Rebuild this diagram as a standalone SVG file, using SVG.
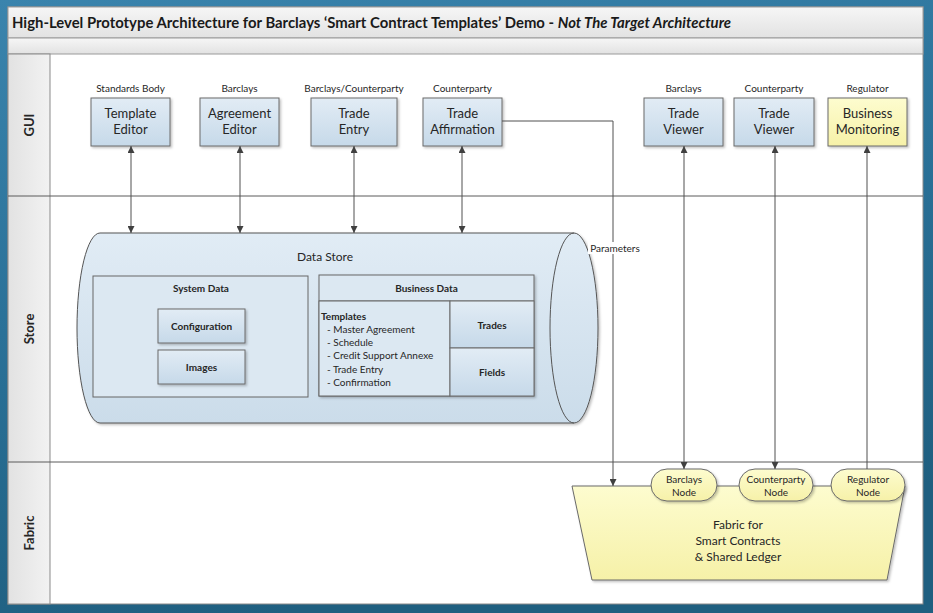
<svg xmlns="http://www.w3.org/2000/svg" width="933" height="613" viewBox="0 0 933 613">
<defs>
<linearGradient id="bg" x1="0" y1="0" x2="0.3" y2="1">
<stop offset="0" stop-color="#3a84ad"/>
<stop offset="0.5" stop-color="#2a7198"/>
<stop offset="1" stop-color="#1f5f80"/>
</linearGradient>
<linearGradient id="bar" x1="0" y1="0" x2="0" y2="1">
<stop offset="0" stop-color="#f6f6f6"/>
<stop offset="1" stop-color="#e2e2e2"/>
</linearGradient>
<linearGradient id="col" x1="0" y1="0" x2="1" y2="0">
<stop offset="0" stop-color="#e2e2e2"/>
<stop offset="1" stop-color="#f2f2f2"/>
</linearGradient>
<linearGradient id="blue" x1="0" y1="0" x2="0" y2="1">
<stop offset="0" stop-color="#e2ecf5"/>
<stop offset="1" stop-color="#c6d9e9"/>
</linearGradient>
<linearGradient id="store" x1="0" y1="0" x2="0" y2="1">
<stop offset="0" stop-color="#e1ecf5"/>
<stop offset="1" stop-color="#cbdcea"/>
</linearGradient>
<linearGradient id="yellow" x1="0" y1="0" x2="0" y2="1">
<stop offset="0" stop-color="#fdfccf"/>
<stop offset="1" stop-color="#f6f1a8"/>
</linearGradient>
<filter id="sh" x="-10%" y="-10%" width="125%" height="130%">
<feDropShadow dx="1.5" dy="1.5" stdDeviation="1.2" flood-color="#000" flood-opacity="0.25"/>
</filter>
<marker id="ah" viewBox="0 0 10 10" refX="10" refY="5" markerWidth="7" markerHeight="7" markerUnits="userSpaceOnUse" orient="auto-start-reverse">
<path d="M0,0 L10,5 L0,10 Z" fill="#404040"/>
</marker>
<style>
text{font-family:Lato,"Liberation Sans",sans-serif;fill:#262626}
.t{font-size:14.5px;font-weight:bold;fill:#1a1a1a}
.lane{font-size:13px;font-weight:bold}
.n{font-size:13px;text-anchor:middle}
.s{font-size:10px;text-anchor:middle}
.sb{font-size:10px;font-weight:bold;text-anchor:middle}
.l{font-size:10px}
.m{font-size:12px;text-anchor:middle}
.box{fill:url(#blue);stroke:#6a6a6a;stroke-width:1}
.yel{fill:url(#yellow);stroke:#6a6a6a;stroke-width:1}
.in{fill:#dce8f2;stroke:#666;stroke-width:1}
.c{fill:none;stroke:#505050;stroke-width:1}
.sep{stroke:#5a5a5a;stroke-width:1}
</style>
</defs>
<rect x="0" y="0" width="933" height="613" fill="url(#bg)"/>
<g id="frame">
<rect x="8" y="7" width="915" height="597" fill="#fff" stroke="#8a8a8a"/>
<rect x="8" y="7" width="915" height="31" fill="url(#bar)" stroke="#9a9a9a"/>
<rect x="8" y="38" width="915" height="16" fill="url(#bar)" stroke="#9a9a9a"/>
<rect x="8" y="54" width="42" height="550" fill="url(#col)" stroke="#8a8a8a"/>
<line class="sep" x1="8" y1="196" x2="923" y2="196"/>
<line class="sep" x1="8" y1="462" x2="923" y2="462"/>
<text class="t" x="12" y="28" textLength="719" lengthAdjust="spacingAndGlyphs">High-Level Prototype Architecture for Barclays ‘Smart Contract Templates’ Demo - <tspan font-style="italic">Not The Target Architecture</tspan></text>
<text class="lane" transform="translate(33.5,125) rotate(-90)" text-anchor="middle">GUI</text>
<text class="lane" transform="translate(33.5,329) rotate(-90)" text-anchor="middle">Store</text>
<text class="lane" transform="translate(33.5,533) rotate(-90)" text-anchor="middle">Fabric</text>
</g>
<g id="data-store">
<path d="M100,233 H574 A24,95 0 0 1 574,423 H100 A23,95 0 0 1 100,233 Z" fill="url(#store)" stroke="#555" filter="url(#sh)"/>
<path d="M574,233 A24,95 0 0 0 574,423" fill="none" stroke="#555"/>
<text class="m" x="325" y="261">Data Store</text>
</g>
<g id="system-data">
<rect class="in" x="93" y="276" width="215" height="121"/>
<text class="sb" x="201" y="292">System Data</text>
</g>
<g id="configuration">
<rect class="box" x="158" y="309" width="87" height="34" filter="url(#sh)"/>
<text class="sb" x="201.5" y="329.5">Configuration</text>
</g>
<g id="images">
<rect class="box" x="158" y="350" width="87" height="34" filter="url(#sh)"/>
<text class="sb" x="201.5" y="370.5">Images</text>
</g>
<g id="business-data">
<rect class="in" x="319" y="275" width="215" height="121" filter="url(#sh)"/>
<line x1="319" y1="301" x2="534" y2="301" stroke="#666"/>
<text class="sb" x="426.5" y="291.5">Business Data</text>
</g>
<g id="templates">
<rect class="in" x="319" y="301" width="131" height="95"/>
<text class="l" x="321" y="319.5" font-weight="bold">Templates</text>
<text class="l" x="327" y="332.5">- Master Agreement</text>
<text class="l" x="327" y="345.5">- Schedule</text>
<text class="l" x="327" y="359">- Credit Support Annexe</text>
<text class="l" x="327" y="372.5">- Trade Entry</text>
<text class="l" x="327" y="385.5">- Confirmation</text>
</g>
<g id="trades">
<rect class="box" x="450" y="301" width="84" height="47"/>
<text class="sb" x="492" y="328.5">Trades</text>
</g>
<g id="fields">
<rect class="box" x="450" y="348" width="84" height="48"/>
<text class="sb" x="492" y="375.5">Fields</text>
</g>
<g id="fabric">
<path d="M572,486 L905,486 L887,580 L592,580 Z" fill="url(#yellow)" stroke="#6a6a6a" filter="url(#sh)"/>
<text class="m" x="738" y="529">Fabric for</text>
<text class="m" x="738" y="545">Smart Contracts</text>
<text class="m" x="738" y="561">&amp; Shared Ledger</text>
</g>
<g id="barclays-node">
<rect class="yel" x="651" y="469" width="66" height="32" rx="16" filter="url(#sh)"/>
<text class="s" x="684" y="482.5">Barclays</text>
<text class="s" x="684" y="495.5">Node</text>
</g>
<g id="counterparty-node">
<rect class="yel" x="739" y="469" width="74" height="32" rx="16" filter="url(#sh)"/>
<text class="s" x="776" y="482.5">Counterparty</text>
<text class="s" x="776" y="495.5">Node</text>
</g>
<g id="regulator-node">
<rect class="yel" x="831" y="469" width="74" height="32" rx="16" filter="url(#sh)"/>
<text class="s" x="868" y="482.5">Regulator</text>
<text class="s" x="868" y="495.5">Node</text>
</g>
<g id="template-editor">
<text class="s" x="130.5" y="91.5">Standards Body</text>
<rect class="box" x="91" y="98" width="79" height="48" filter="url(#sh)"/>
<text class="n" x="130.5" y="117.5">Template</text>
<text class="n" x="130.5" y="133.5">Editor</text>
</g>
<g id="agreement-editor">
<text class="s" x="239.5" y="91.5">Barclays</text>
<rect class="box" x="200" y="98" width="79" height="48" filter="url(#sh)"/>
<text class="n" x="239.5" y="117.5">Agreement</text>
<text class="n" x="239.5" y="133.5">Editor</text>
</g>
<g id="trade-entry">
<text class="s" x="354" y="91.5">Barclays/Counterparty</text>
<rect class="box" x="311" y="98" width="86" height="48" filter="url(#sh)"/>
<text class="n" x="354" y="117.5">Trade</text>
<text class="n" x="354" y="133.5">Entry</text>
</g>
<g id="trade-affirmation">
<text class="s" x="462.5" y="91.5">Counterparty</text>
<rect class="box" x="423" y="98" width="79" height="48" filter="url(#sh)"/>
<text class="n" x="462.5" y="117.5">Trade</text>
<text class="n" x="462.5" y="133.5">Affirmation</text>
</g>
<g id="trade-viewer-barclays">
<text class="s" x="683.5" y="91.5">Barclays</text>
<rect class="box" x="644" y="98" width="79" height="48" filter="url(#sh)"/>
<text class="n" x="683.5" y="117.5">Trade</text>
<text class="n" x="683.5" y="133.5">Viewer</text>
</g>
<g id="trade-viewer-counterparty">
<text class="s" x="774" y="91.5">Counterparty</text>
<rect class="box" x="734" y="98" width="80" height="48" filter="url(#sh)"/>
<text class="n" x="774" y="117.5">Trade</text>
<text class="n" x="774" y="133.5">Viewer</text>
</g>
<g id="business-monitoring">
<text class="s" x="867.5" y="91.5">Regulator</text>
<rect class="yel" x="828" y="98" width="79" height="48" filter="url(#sh)"/>
<text class="n" x="867.5" y="117.5">Business</text>
<text class="n" x="867.5" y="133.5">Monitoring</text>
</g>
<g id="connectors">
<line class="c" x1="131" y1="146" x2="131" y2="233" marker-start="url(#ah)" marker-end="url(#ah)"/>
<line class="c" x1="240" y1="146" x2="240" y2="233" marker-start="url(#ah)" marker-end="url(#ah)"/>
<line class="c" x1="354" y1="146" x2="354" y2="233" marker-start="url(#ah)" marker-end="url(#ah)"/>
<line class="c" x1="462" y1="146" x2="462" y2="233" marker-start="url(#ah)" marker-end="url(#ah)"/>
<line class="c" x1="684" y1="146" x2="684" y2="469" marker-start="url(#ah)" marker-end="url(#ah)"/>
<line class="c" x1="775" y1="146" x2="775" y2="469" marker-start="url(#ah)" marker-end="url(#ah)"/>
<line class="c" x1="867" y1="469" x2="867" y2="146" marker-end="url(#ah)"/>
<path class="c" d="M502,121 H613 V486" marker-end="url(#ah)"/>
<rect x="588" y="242" width="56" height="12" fill="#fff"/>
<text class="s" x="615" y="251.5">Parameters</text>
</g>
</svg>
